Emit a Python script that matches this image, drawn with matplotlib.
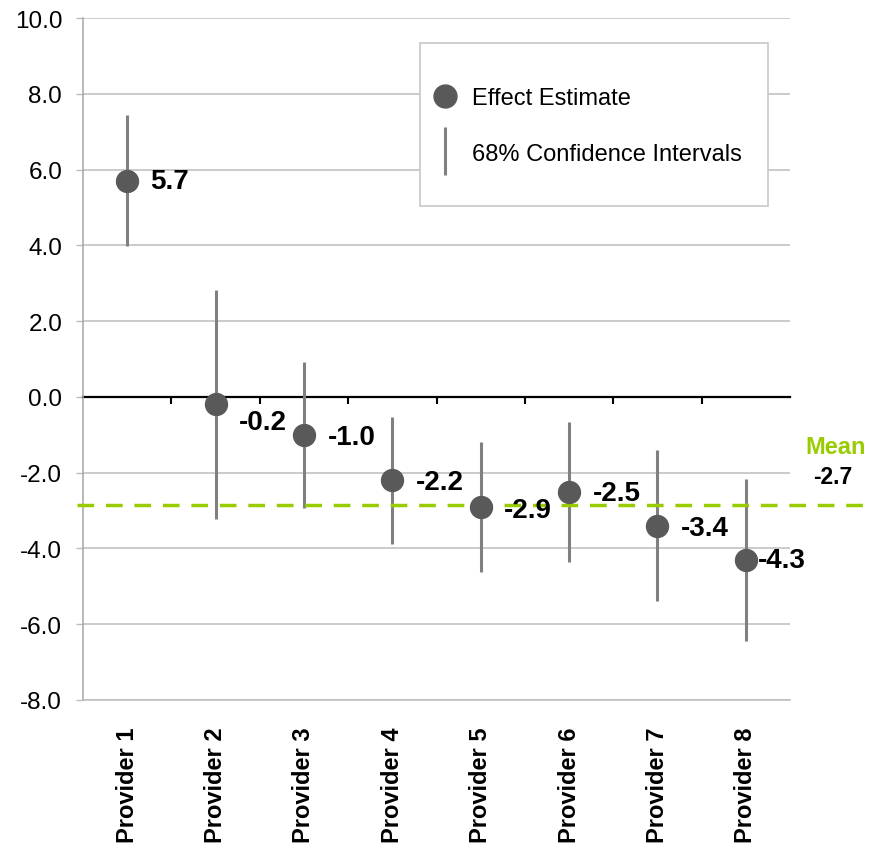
import numpy as np
import matplotlib
matplotlib.use('Agg')
import matplotlib.pyplot as plt
from matplotlib.lines import Line2D
from matplotlib.patches import Rectangle

plt.rcParams['font.family'] = ['Liberation Sans', 'DejaVu Sans']

# Data
providers = ['Provider 1', 'Provider 2', 'Provider 3', 'Provider 4',
             'Provider 5', 'Provider 6', 'Provider 7', 'Provider 8']
estimates = [5.7, -0.2, -1.0, -2.2, -2.9, -2.5, -3.4, -4.3]
ci_half = [1.73, 3.03, 1.93, 1.68, 1.72, 1.85, 2.0, 2.14]
mean_value = -2.86
mean_label = '-2.7'
y_ticks = [-8, -6, -4, -2, 0, 2, 4, 6, 8, 10]

# label offsets from each point (pixels)
label_dx = [23, 23, 24, 24, 23, 24, 23, 12]
label_dy = [0, -18, -2, -2, -3, -1, -2, 0]

grey_pt = '#595959'
grey_bar = '#808080'
grid_col = '#bdbdbd'
green = '#99cc00'

fig = plt.figure(figsize=(8.76, 8.45), dpi=100)
ax = fig.add_axes([83/876, 1 - 701/845, 707/876, 682/845])

# spines first: moving a spine resets the ticks
ax.spines['right'].set_visible(False)
ax.spines['left'].set_color('#a6a6a6')
ax.spines['left'].set_linewidth(1.1)
ax.spines['bottom'].set_color(grid_col)
ax.spines['bottom'].set_linewidth(1.1)
ax.spines['top'].set_position(('data', 0))
ax.spines['top'].set_color('black')
ax.spines['top'].set_linewidth(1.6)
ax.spines['top'].set_zorder(2)

x = np.arange(len(providers))

# Error bars and points
ax.errorbar(x, estimates, yerr=ci_half, fmt='none', ecolor=grey_bar,
            elinewidth=2.2, capsize=0, zorder=3)
ax.plot(x, estimates, 'o', color=grey_pt, markersize=15.8, zorder=5)

for i, v in enumerate(estimates):
    ax.annotate('%.1f' % v, (x[i], v), xytext=(label_dx[i], label_dy[i]),
                textcoords='offset pixels', ha='left', va='center',
                fontsize=20, fontweight='bold', color='black', zorder=6)

# Mean line, running a little past the plot area
ax.plot([-0.008, 1.106], [mean_value, mean_value], color=green, lw=2.5,
        dashes=(4.8, 3.4), transform=ax.get_yaxis_transform(), clip_on=False,
        zorder=4)
ax.annotate('Mean', (1.064, mean_value), xycoords=ax.get_yaxis_transform(),
            xytext=(0, 59), textcoords='offset pixels', ha='center',
            va='center', fontsize=17, fontweight='bold', color=green,
            annotation_clip=False)
ax.annotate(mean_label, (1.064, mean_value), xycoords=ax.get_yaxis_transform(),
            xytext=(-2, 29), textcoords='offset pixels', ha='center',
            va='center', fontsize=16.5, fontweight='bold', color='black',
            annotation_clip=False)

# Axes styling
ax.set_xlim(-0.5, len(providers) - 0.5)
ax.set_ylim(-8, 10)
ax.set_yticks(y_ticks)
ax.set_yticklabels(['%.1f' % t for t in y_ticks])
ax.yaxis.grid(True, color=grid_col, lw=1.1, zorder=0)
ax.set_axisbelow(True)

ax.set_xticks(x)
ax.set_xticks(x[:-1] + 0.5, minor=True)
ax.set_xticklabels(providers, fontweight='bold')
ax.tick_params(axis='x', which='major', length=0, pad=19,
               labelrotation=90, labelsize=17)
ax.tick_params(axis='x', which='minor', bottom=False, top=True,
               direction='in', length=5, width=1.5, color='black')
ax.tick_params(axis='y', length=5, width=1, color=grid_col, pad=10,
               labelsize=17.5)

# Legend with a square grey frame
ax.add_patch(Rectangle((337/707, 494/682), 348/707, 163/682,
                       transform=ax.transAxes, facecolor='white',
                       edgecolor='#c8c8c8', lw=1.2, zorder=7))
handles = [Line2D([], [], marker='o', ls='none', color=grey_pt, markersize=16.5),
           Line2D([], [], marker='|', ls='none', color=grey_bar,
                  markersize=35, markeredgewidth=2.2)]
leg = ax.legend(handles, ['Effect Estimate', '68% Confidence Intervals'],
                loc='center left', bbox_to_anchor=(350/707, 574/682),
                frameon=False, fontsize=17, borderpad=0, borderaxespad=0,
                handlelength=1.0, handletextpad=0.65, labelspacing=1.4)
leg.set_zorder(8)

fig.savefig('out.png', dpi=100)
